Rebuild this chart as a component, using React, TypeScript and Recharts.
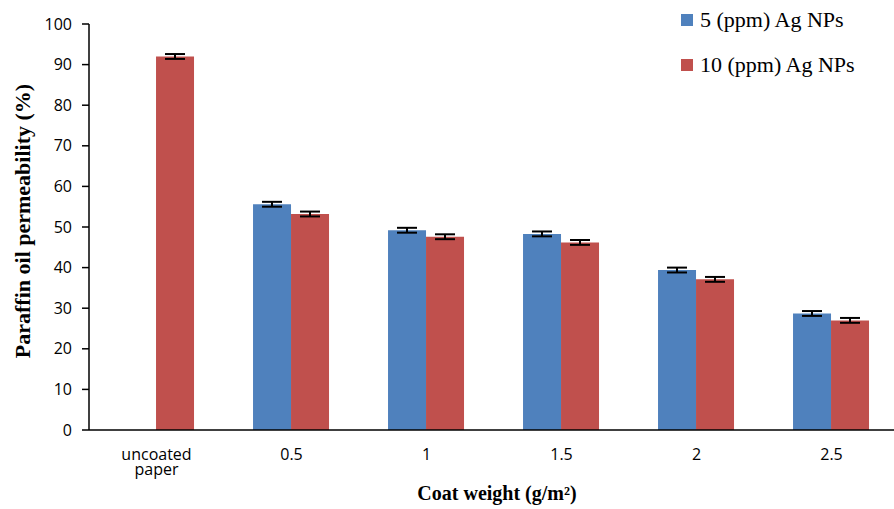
import React from 'react';
import {
  BarChart,
  Bar,
  XAxis,
  YAxis,
  ErrorBar,
  Legend,
  Label
} from 'recharts';

const categories = ['uncoated paper', '0.5', '1', '1.5', '2', '2.5'];
const ppm5 = [null, 55.6, 49.2, 48.3, 39.4, 28.7];
const ppm10 = [92.0, 53.2, 47.6, 46.2, 37.1, 27.0];
const err5 = [null, 0.6, 0.6, 0.6, 0.6, 0.6];
const err10 = [0.6, 0.6, 0.6, 0.6, 0.6, 0.6];
const yTicks = [0, 10, 20, 30, 40, 50, 60, 70, 80, 90, 100];
const edgeTicks = [0, 1, 2, 3, 4, 5, 6];

const BLUE = '#4F81BD';
const RED = '#C0504D';
const TICK_FONT = '"Open Sans", sans-serif';
const TITLE_FONT = '"Liberation Serif", "Times New Roman", serif';

const data = categories.map((c, i) => ({
  name: c,
  a: ppm5[i],
  b: ppm10[i],
  ea: err5[i],
  eb: err10[i],
  idx: i + 0.5
}));

const series = [
  { label: '5 (ppm) Ag NPs', color: BLUE },
  { label: '10 (ppm) Ag NPs', color: RED }
];

const CatTick = (props: any) => {
  const { x, y, payload } = props;
  const words = String(payload.value).split(' ');
  return (
    <text x={x} y={y} textAnchor="middle" fontFamily={TICK_FONT} fontSize={16} fill="#000">
      {words.map((w, i) => (
        <tspan key={i} x={x} dy={i === 0 ? 30 : 15}>{w}</tspan>
      ))}
    </text>
  );
};

const renderLegend = () => (
  <div style={{ fontFamily: TITLE_FONT, fontSize: 22, color: '#000' }}>
    {series.map((s) => (
      <div key={s.label} style={{ display: 'flex', alignItems: 'center', height: 45 }}>
        <span style={{ width: 12, height: 12, background: s.color, display: 'inline-block', marginRight: 7 }} />
        <span>{s.label}</span>
      </div>
    ))}
  </div>
);

const YTitle = (props: any) => {
  const { viewBox } = props;
  const cy = viewBox.y + viewBox.height / 2 - 6;
  return (
    <text x={30} y={cy} transform={`rotate(-90, 30, ${cy})`} textAnchor="middle"
      fontFamily={TITLE_FONT} fontWeight="bold" fontSize={22} fill="#000">
      Paraffin oil permeability (%)
    </text>
  );
};

const XTitle = (props: any) => {
  const { viewBox } = props;
  const cx = viewBox.x + viewBox.width / 2 + 3;
  return (
    <text x={cx} y={500} textAnchor="middle"
      fontFamily={TITLE_FONT} fontWeight="bold" fontSize={20} fill="#000">
      Coat weight (g/m²)
    </text>
  );
};

export default function App() {
  return (
    <div style={{ position: 'absolute', left: 0, top: 0, width: 894, height: 509, overflow: 'hidden', background: '#fff' }}>
      <BarChart
        width={910}
        height={509}
        data={data}
        margin={{ top: 24, right: 11, left: 0, bottom: 29 }}
        barGap={0}
        barCategoryGap="21.5%"
      >
        <XAxis
          xAxisId="edge"
          type="number"
          dataKey="idx"
          domain={[0, 6]}
          ticks={edgeTicks}
          tick={false}
          tickSize={6}
          axisLine={false}
          tickLine={{ stroke: '#000', strokeWidth: 1.5 }}
          height={0}
        />
        <XAxis
          xAxisId="cat"
          dataKey="name"
          tick={<CatTick />}
          tickLine={false}
          tickSize={0}
          tickMargin={0}
          interval={0}
          axisLine={{ stroke: '#000', strokeWidth: 1.5 }}
          height={50}
        >
          <Label content={<XTitle />} />
        </XAxis>
        <YAxis
          width={89}
          domain={[0, 100]}
          ticks={yTicks}
          tickSize={7}
          tickMargin={10}
          interval={0}
          tick={{ fill: '#000', fontFamily: TICK_FONT, fontSize: 16 }}
          axisLine={{ stroke: '#000', strokeWidth: 1.5 }}
          tickLine={{ stroke: '#000', strokeWidth: 1.5 }}
        >
          <Label content={<YTitle />} />
        </YAxis>
        <Legend
          layout="vertical"
          align="center"
          verticalAlign="middle"
          content={renderLegend}
          wrapperStyle={{ left: 681, top: -3, width: 220, height: 90 }}
        />
        <Bar xAxisId="cat" dataKey="a" name={series[0].label} fill={BLUE} isAnimationActive={false}>
          <ErrorBar dataKey="ea" width={10} stroke="#000" strokeWidth={2} direction="y" />
        </Bar>
        <Bar xAxisId="cat" dataKey="b" name={series[1].label} fill={RED} isAnimationActive={false}>
          <ErrorBar dataKey="eb" width={10} stroke="#000" strokeWidth={2} direction="y" />
        </Bar>
      </BarChart>
    </div>
  );
}
